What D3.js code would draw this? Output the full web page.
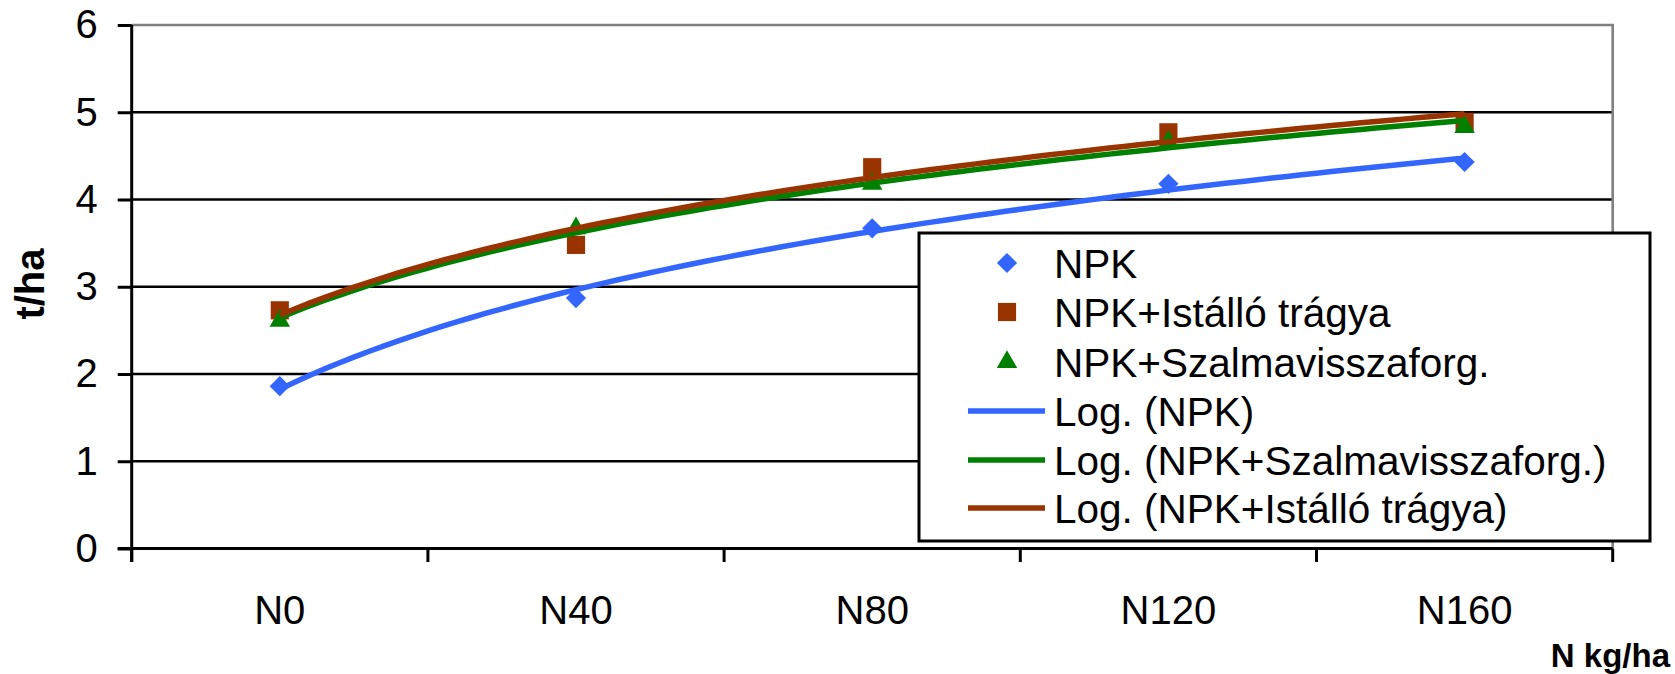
<!DOCTYPE html>
<html><head><meta charset="utf-8">
<script src="https://cdn.jsdelivr.net/npm/d3@7"></script>
<style>html,body{margin:0;padding:0;background:#fff;}svg{display:block;font-family:"Liberation Sans",Arial,sans-serif;}</style>
</head><body><svg id="c" width="1675" height="674"></svg>
<script>
const categories = ["N0","N40","N80","N120","N160"];
const npk        = [1.86, 2.87, 3.67, 4.18, 4.43];
const istallo    = [2.73, 3.48, 4.37, 4.77, 4.89];
const szalma     = [2.61, 3.67, 4.18, 4.66, 4.83];
const yTicks     = [0,1,2,3,4,5,6];
const seriesNames = ["NPK","NPK+Istálló trágya","NPK+Szalmavisszaforg."];
const trendNames  = ["Log. (NPK)","Log. (NPK+Szalmavisszaforg.)","Log. (NPK+Istálló trágya)"];
const yTitle = "t/ha", xTitle = "N kg/ha";

const C_BLUE="#3366FF", C_BROWN="#993300", C_GREEN="#008000";

const svg = d3.select("#c");
const L=131.7, R=1612.7, T=25, B=548.5;
const x = d3.scaleBand().domain(categories).range([L,R]);
const xc = d3.scaleLinear().domain([0.5, categories.length+0.5]).range([L,R]);
const y = d3.scaleLinear().domain([0,6]).range([B,T]);

// gridlines
svg.append("g").selectAll("line").data(yTicks.filter(t=>t>0&&t<6)).join("line")
  .attr("x1",L).attr("x2",R).attr("y1",d=>y(d)).attr("y2",d=>y(d))
  .attr("stroke","#000").attr("stroke-width",2.6);
// plot border top/right gray
svg.append("path").attr("d",`M${L},${y(6)}H${R}V${B}`).attr("fill","none")
  .attr("stroke","#808080").attr("stroke-width",2.6);

// y axis
const yAxis = d3.axisLeft(y).tickValues(yTicks).tickSize(14).tickPadding(20).tickFormat(d3.format("d"));
const gy = svg.append("g").attr("transform",`translate(${L},0)`).call(yAxis);
gy.select(".domain").attr("d",`M0,${T}V${B+13.5}`).attr("stroke","#000").attr("stroke-width",3);
gy.selectAll(".tick line").attr("stroke","#000").attr("stroke-width",3);
gy.selectAll(".tick text").attr("font-size",40).attr("fill","#000").attr("font-family","Liberation Sans, Arial, sans-serif");

// x axis
const xAxis = d3.axisBottom(x).tickSize(0).tickPadding(47);
const gx = svg.append("g").attr("transform",`translate(0,${B})`).call(xAxis);
gx.select(".domain").attr("d",`M${L-14},0H${R}`).attr("stroke","#000").attr("stroke-width",3);
gx.selectAll(".tick text").attr("font-size",40).attr("fill","#000").attr("font-family","Liberation Sans, Arial, sans-serif");
// boundary tick marks
svg.append("g").selectAll("line").data(d3.range(categories.length+1)).join("line")
  .attr("x1",i=>xc(i+0.5)).attr("x2",i=>xc(i+0.5)).attr("y1",B).attr("y2",B+13.5)
  .attr("stroke","#000").attr("stroke-width",3);

// axis titles
svg.append("text").attr("transform",`translate(44,284) rotate(-90)`).attr("text-anchor","middle")
  .attr("font-size",40).attr("font-weight","bold").text(yTitle);
svg.append("text").attr("x",1670).attr("y",667).attr("text-anchor","end")
  .attr("font-size",33).attr("font-weight","bold").text(xTitle);

// markers
const sym = {
  diamond: d3.symbol().type(d3.symbolDiamond2).size(260),
  square: d3.symbol().type(d3.symbolSquare).size(330),
  triangle: d3.symbol().type(d3.symbolTriangle2).size(300)
};
function drawMarkers(vals, s, col){
  svg.append("g").selectAll("path").data(vals).join("path")
    .attr("d",s).attr("fill",col)
    .attr("transform",(d,i)=>`translate(${x(categories[i])+x.bandwidth()/2},${y(d)})`);
}
drawMarkers(npk, sym.diamond, C_BLUE);
drawMarkers(istallo, sym.square, C_BROWN);
drawMarkers(szalma, sym.triangle, C_GREEN);

// logarithmic least-squares trendlines fitted to the series
function logFit(vals){
  const lx = vals.map((v,i)=>Math.log(i+1));
  const mx = d3.mean(lx), my = d3.mean(vals);
  const a = d3.sum(lx.map((l,i)=>(l-mx)*(vals[i]-my)))/d3.sum(lx.map(l=>(l-mx)*(l-mx)));
  const b = my - a*mx;
  return t => a*Math.log(t)+b;
}
const samples = d3.range(1, categories.length+0.0001, 0.05);
const line = d3.line().x(d=>xc(d[0])).y(d=>y(d[1]));
[[npk,C_BLUE],[szalma,C_GREEN],[istallo,C_BROWN]].forEach(([vals,col])=>{
  const f = logFit(vals);
  svg.append("path").datum(samples.map(t=>[t,f(t)])).attr("d",line)
    .attr("fill","none").attr("stroke",col).attr("stroke-width",5.5).attr("stroke-linejoin","round");
});

// legend
const lg = svg.append("g");
lg.append("rect").attr("x",919).attr("y",233).attr("width",731).attr("height",308)
  .attr("fill","#fff").attr("stroke","#000").attr("stroke-width",3);
const rowY = [263, 312, 362, 411, 460, 508];
const legItems = [
  {name:seriesNames[0], type:"m", s:sym.diamond, c:C_BLUE},
  {name:seriesNames[1], type:"m", s:d3.symbol().type(d3.symbolSquare).size(330), c:C_BROWN},
  {name:seriesNames[2], type:"m", s:sym.triangle, c:C_GREEN},
  {name:trendNames[0], type:"l", c:C_BLUE},
  {name:trendNames[1], type:"l", c:C_GREEN},
  {name:trendNames[2], type:"l", c:C_BROWN}
];
legItems.forEach((it,i)=>{
  const g = lg.append("g").attr("transform",`translate(0,${rowY[i]})`);
  if(it.type==="m"){
    g.append("path").attr("d",it.s).attr("fill",it.c).attr("transform","translate(1007,0)");
  } else {
    g.append("line").attr("x1",968).attr("x2",1045).attr("y1",0).attr("y2",0)
      .attr("stroke",it.c).attr("stroke-width",5.5);
  }
  g.append("text").attr("x",1054).attr("y",0).attr("dy","0.36em").attr("font-size",40.5).text(it.name);
});
</script></body></html>
